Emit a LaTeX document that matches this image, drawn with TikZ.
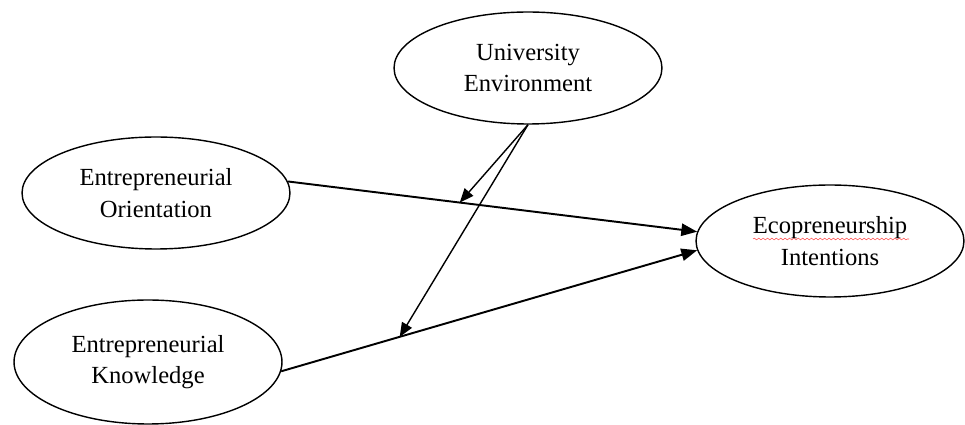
\documentclass[tikz,border=0pt]{standalone}
\usepackage{fontspec}
\setmainfont{Liberation Serif}
\usetikzlibrary{arrows.meta,shapes.geometric,decorations.pathmorphing}

\begin{document}
\begin{tikzpicture}[x=0.02cm,y=-0.02cm,
  construct/.style={ellipse,draw,line width=0.8pt,minimum width=5.36cm,
                    minimum height=2.24cm,inner sep=0pt,align=center,
                    font=\fontsize{14}{18}\selectfont},
  effect/.style={-{Triangle[length=9pt,width=7pt]},line width=1.1pt},
  moder/.style ={-{Triangle[length=8pt,width=6.5pt]},line width=0.8pt}
]
\useasboundingbox (0,0) rectangle (965,425);
\node[construct] (uenv)    at (528, 68) {University\\Environment};
\node[construct] (eorient) at (156,193) {Entrepreneurial\\Orientation};
\node[construct,minimum height=2.48cm] (eknow) at (148,362) {Entrepreneurial\\Knowledge};
\node[construct] (ecoint)  at (830,241) {Ecopreneurship\\Intentions};
% direct effects
\draw[effect] (eorient.5) -- coordinate[pos=0.42] (m1) (ecoint.176);
\draw[effect] (eknow.-4)  -- coordinate[pos=0.285] (m2) (ecoint.184);
% moderation
\foreach \m in {m1,m2}
  \draw[moder] (uenv.south) -- (\m);
% spell-check mark
\draw[red!70,line width=0.3pt,decorate,
      decoration={snake,amplitude=0.5pt,segment length=2.5pt}]
  (753,239) -- (909,239);
\end{tikzpicture}
\end{document}
